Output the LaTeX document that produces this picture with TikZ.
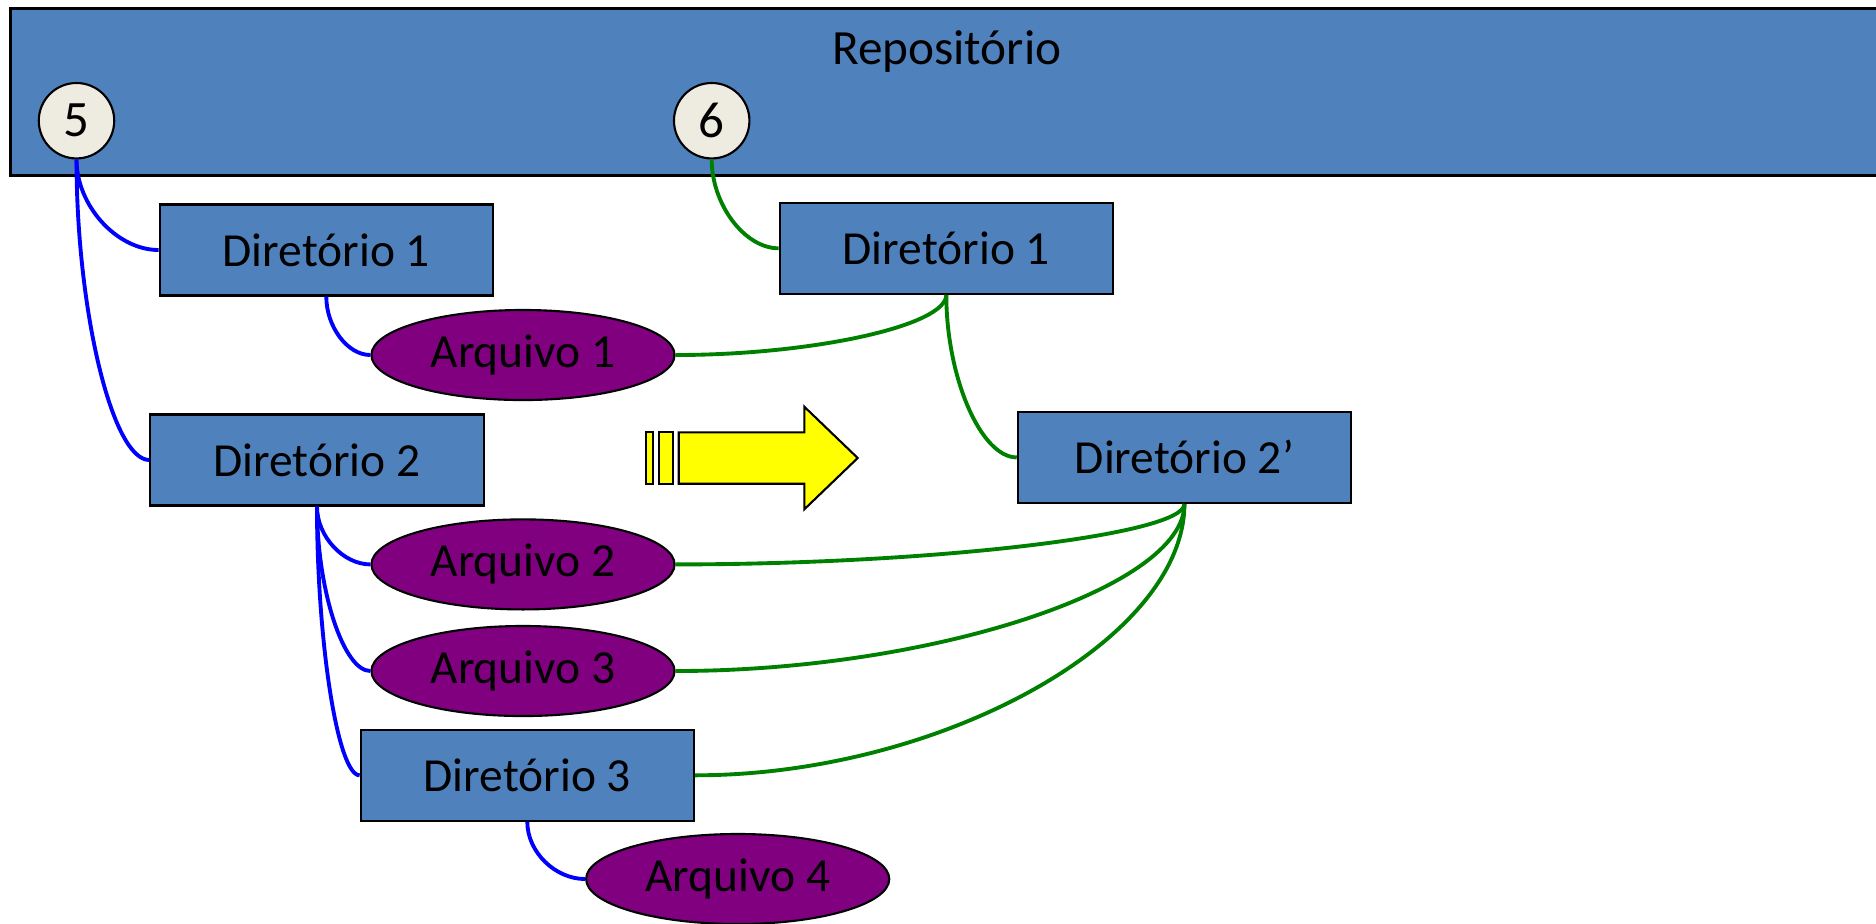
\documentclass[tikz,border=0pt]{standalone}
\usepackage{fontspec}
\setmainfont{Carlito}
\usetikzlibrary{shapes.geometric}
\definecolor{boxblue}{RGB}{79,129,189}
\definecolor{filepurple}{RGB}{128,0,128}
\definecolor{circfill}{RGB}{238,236,225}
\definecolor{linkgreen}{RGB}{0,128,0}
\definecolor{linkblue}{RGB}{0,0,255}
\definecolor{arrowyellow}{RGB}{255,255,0}
\tikzset{
  txt/.style={font=\fontsize{13.5}{16}\selectfont, text=black},
  dirbox/.style={txt, draw=black, line width=0.6pt, fill=boxblue, rectangle, minimum width=3.33cm, minimum height=0.91cm, inner sep=0pt},
  filebox/.style={txt, draw=black, line width=0.6pt, fill=filepurple, ellipse, minimum width=3.03cm, minimum height=0.9cm, inner sep=0pt},
  numcirc/.style={font=\fontsize{14.5}{17}\selectfont, text=black, draw=black, line width=0.6pt, fill=circfill, circle, minimum size=0.754cm, inner sep=0pt},
  bluelink/.style={draw=linkblue, line width=1.1pt},
  greenlink/.style={draw=linkgreen, line width=1.1pt},
  arrowpart/.style={draw=black, line width=0.6pt, fill=arrowyellow},
}
\begin{document}
\begin{tikzpicture}[x=0.01cm, y=-0.01cm]
\useasboundingbox (0,0) rectangle (1876,923);
\clip (0,0) rectangle (1876,923);
% repository
\node (repo) [draw=black, line width=0.8pt, fill=boxblue, rectangle, minimum width=18.76cm, minimum height=1.667cm, inner sep=0pt, anchor=north west] at (8.7,7.3) {};
\node (repolabel) [font=\fontsize{14}{17}\selectfont] at (946.7,52) {Repositório};
\node (c5) [numcirc] at (76.5,120.7) {5};
\node (c6) [numcirc] at (711.7,120.7) {6};
% left tree
\node (d1) [dirbox] at (326.3,250) {Diretório 1};
\node (a1) [filebox] at (523,355) {Arquivo 1};
\node (d2) [dirbox] at (317,460) {Diretório 2};
\node (a2) [filebox] at (523,564.4) {Arquivo 2};
\node (a3) [filebox] at (523,671) {Arquivo 3};
\node (d3) [dirbox] at (527.3,775.3) {Diretório 3};
\node (a4) [filebox] at (737.7,879) {Arquivo 4};
% right tree
\node (d1r) [dirbox] at (946.3,248.3) {Diretório 1};
\node (d2p) [dirbox] at (1184.4,457.4) {Diretório 2’};
% arrow
\draw[arrowpart] (645.7,432.3) rectangle (652.7,483.7);
\draw[arrowpart] (658.7,432.3) rectangle (672.7,483.7);
\draw[arrowpart] (678.7,432.3) -- (804.3,432.3) -- (804.3,406.7) -- (857.7,458) -- (804.3,509.3) -- (804.3,483.7) -- (678.7,483.7) -- cycle;
% blue links
\draw[bluelink] (c5.south) .. controls +(0,46) and +(-42,0) .. (d1.west);
\draw[bluelink] (c5.south) .. controls +(0,151) and +(-37,0) .. (d2.west);
\draw[bluelink] (d1.south) .. controls +(0,30) and +(-23,0) .. (a1.west);
\draw[bluelink] (d2.south) .. controls +(0,30) and +(-27,0) .. (a2.west);
\draw[bluelink] (d2.south) .. controls +(0,83) and +(-27,0) .. (a3.west);
\draw[bluelink] (d2.south) .. controls +(0,135) and +(-22,0) .. (d3.west);
\draw[bluelink] (d3.south) .. controls +(0,30) and +(-30,0) .. (a4.west);
% green links
\draw[greenlink] (c6.south) .. controls +(0,45) and +(-34,0) .. (d1r.west);
\draw[greenlink] (d1r.south) .. controls +(0,31) and +(136,0) .. (a1.east);
\draw[greenlink] (d1r.south) .. controls +(0,82) and +(-36,0) .. (d2p.west);
\draw[greenlink] (d2p.south) .. controls +(0,31) and +(255,0) .. (a2.east);
\draw[greenlink] (d2p.south) .. controls +(0,84) and +(255,0) .. (a3.east);
\draw[greenlink] (d2p.south) .. controls +(0,136) and +(245,0) .. (d3.east);
\end{tikzpicture}
\end{document}
